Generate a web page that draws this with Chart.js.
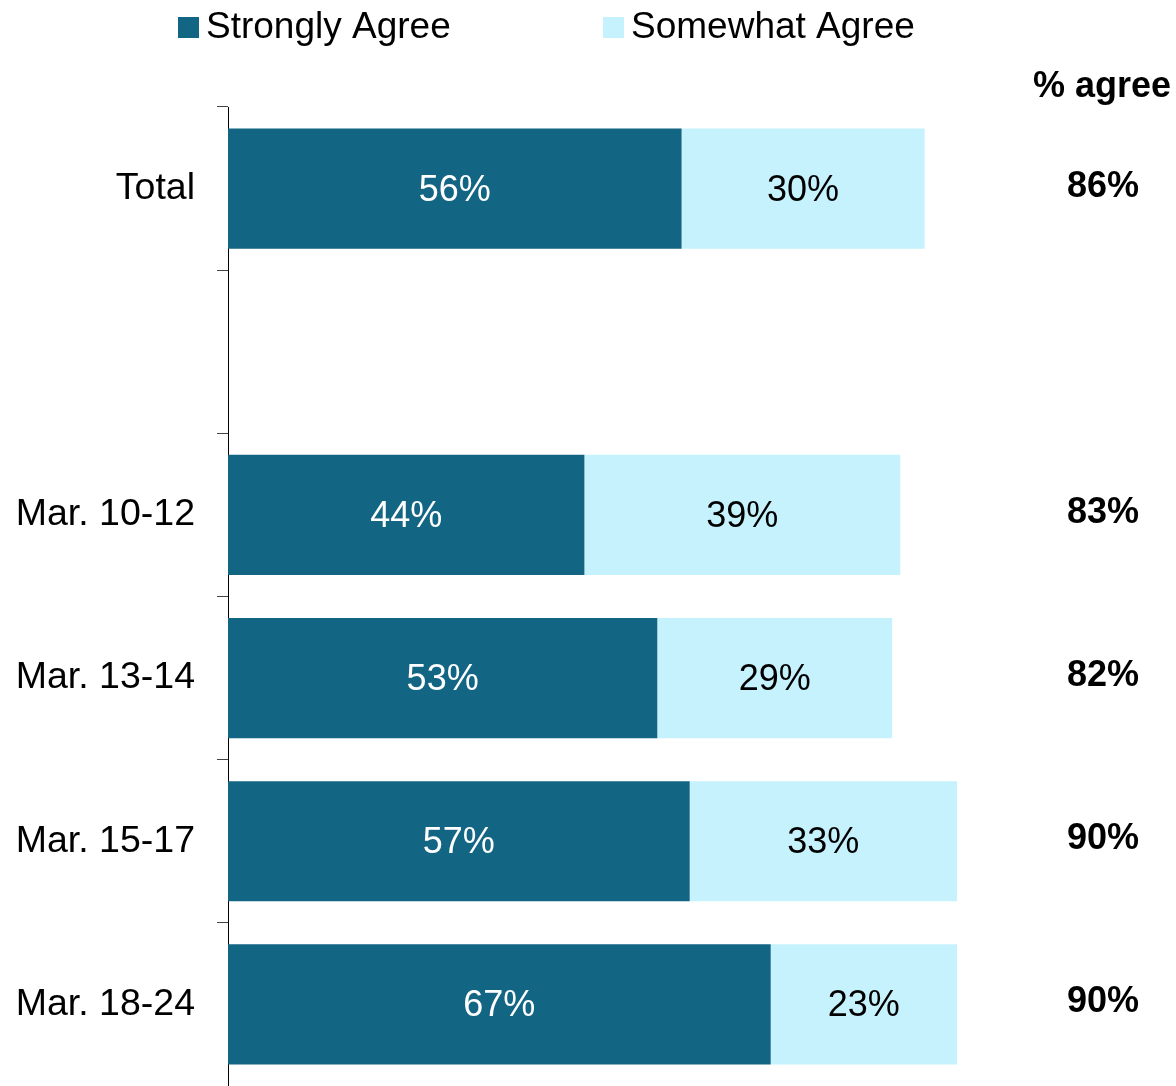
<!DOCTYPE html>
<html>
<head>
<meta charset="utf-8">
<title>Agree by period</title>
<script src="https://cdn.jsdelivr.net/npm/chart.js@4"></script>
<style>
  html, body { margin: 0; padding: 0; background: #fff; }
  #wrap { width: 1176px; height: 1086px; position: relative; }
</style>
</head>
<body>
<div id="wrap"><canvas id="agreeChart"></canvas></div>
<script>
var categories = ['Total', '', 'Mar. 10-12', 'Mar. 13-14', 'Mar. 15-17', 'Mar. 18-24'];
var seriesNames = ['Strongly Agree', 'Somewhat Agree'];
var stronglyAgree = [56, null, 44, 53, 57, 67];
var somewhatAgree = [30, null, 39, 29, 33, 23];
var totalAgree = [86, null, 83, 82, 90, 90];
var totalHeader = '% agree';

var DARK = '#136584';
var LIGHT = '#C5F2FD';
var FONT = '"Liberation Sans", Arial, sans-serif';

// labels inside bars, the % agree column and the legend
var sideText = {
    id: 'sideText',
    afterDatasetsDraw: function(chart) {
        var ctx = chart.ctx;
        ctx.save();
        ctx.textAlign = 'center';
        ctx.textBaseline = 'middle';
        ctx.font = '36px ' + FONT;

        chart.data.datasets.forEach(function(ds, di) {
            var meta = chart.getDatasetMeta(di);
            meta.data.forEach(function(bar, i) {
                if (ds.data[i] == null) return;
                var p = bar.getProps(['x', 'y', 'base'], true);
                ctx.fillStyle = di == 0 ? '#fff' : '#000';
                ctx.fillText(ds.data[i] + '%', (p.x + p.base) / 2, p.y + 2);
            });
        });

        // % agree column
        var yScale = chart.scales.y;
        ctx.fillStyle = '#000';
        ctx.font = 'bold 36px ' + FONT;
        ctx.fillText(totalHeader, 1102, 87);
        totalAgree.forEach(function(v, i) {
            if (v == null) return;
            ctx.fillText(v + '%', 1103, yScale.getPixelForValue(i) - 2);
        });

        // legend
        ctx.font = '37px ' + FONT;
        ctx.textAlign = 'left';
        var legendX = [178, 603];
        chart.data.datasets.forEach(function(ds, di) {
            ctx.fillStyle = ds.backgroundColor;
            ctx.fillRect(legendX[di], 17, 21, 21);
            ctx.fillStyle = '#000';
            ctx.fillText(ds.label, legendX[di] + 28, 28);
        });
        ctx.restore();
    }
};

new Chart(document.getElementById('agreeChart'), {
    type: 'bar',
    data: {
        labels: categories,
        datasets: [
            { label: seriesNames[0], data: stronglyAgree, backgroundColor: DARK },
            { label: seriesNames[1], data: somewhatAgree, backgroundColor: LIGHT }
        ]
    },
    options: {
        indexAxis: 'y',
        responsive: true,
        maintainAspectRatio: false,
        animation: false,
        barPercentage: 0.736,
        categoryPercentage: 1,
        layout: { padding: { top: 107, right: 138, bottom: 0, left: 0 } },
        plugins: {
            legend: { display: false },
            tooltip: { enabled: false }
        },
        scales: {
            x: {
                stacked: true,
                display: false,
                min: 0,
                max: 100
            },
            y: {
                stacked: true,
                afterFit: function(scale) {
                    scale.width = 228;
                    scale.paddingTop = 0;
                    scale.paddingBottom = 0;
                },
                grid: {
                    drawOnChartArea: false,
                    drawTicks: true,
                    tickLength: 11,
                    color: '#444',
                    offset: true
                },
                border: { display: true, color: '#000', width: 1 },
                ticks: {
                    color: '#000',
                    padding: 22,
                    font: { family: FONT, size: 37.5 }
                }
            }
        }
    },
    plugins: [sideText]
});
</script>
</body>
</html>
